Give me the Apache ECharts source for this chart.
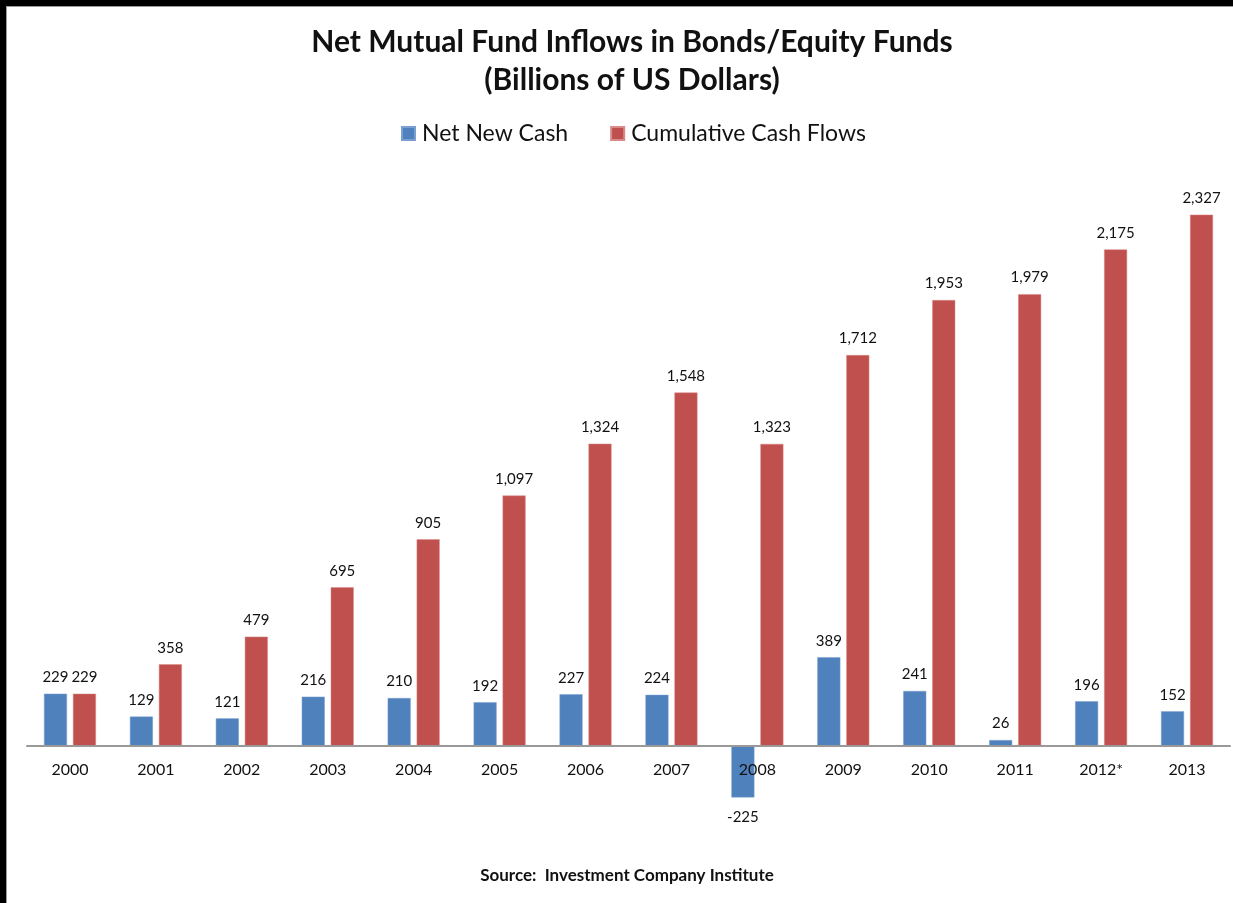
<!DOCTYPE html>
<html>
<head>
<meta charset="utf-8">
<script src="https://cdn.jsdelivr.net/npm/echarts@6/dist/echarts.min.js"></script>
<style>
html,body{margin:0;padding:0;background:#fff;}
#chart{width:1233px;height:903px;}
</style>
</head>
<body>
<div id="chart"></div>
<script>
const categories = ['2000','2001','2002','2003','2004','2005','2006','2007','2008','2009','2010','2011','2012*','2013'];
const netNewCash = [229,129,121,216,210,192,227,224,-225,389,241,26,196,152];
const cumulativeCashFlows = [229,358,479,695,905,1097,1324,1548,1323,1712,1953,1979,2175,2327];
const seriesNames = ['Net New Cash','Cumulative Cash Flows'];

const FONT = 'Lato, "Open Sans", sans-serif';
const fmt = v => Number(v).toLocaleString('en-US');

const chart = echarts.init(document.getElementById('chart'), null, {renderer:'canvas'});
chart.setOption({
  backgroundColor:'#ffffff',
  animation:false,
  title:{
    text:'Net Mutual Fund Inflows in Bonds/Equity Funds\n(Billions of US Dollars)',
    left:627, top:18, textAlign:'center',
    textStyle:{fontFamily:FONT, fontSize:30, fontWeight:'bold', color:'#111', lineHeight:38}
  },
  legend:{
    data:seriesNames,
    left:396, top:117,
    itemWidth:13, itemHeight:13, itemGap:42,
    icon:'rect',
    textStyle:{fontFamily:FONT, fontSize:23, color:'#111', padding:[0,0,0,2]}
  },
  grid:{left:27, right:3, top:198, bottom:157, containLabel:false},
  xAxis:{
    type:'category', data:categories, z:5,
    axisLine:{lineStyle:{color:'#999', width:2}},
    axisTick:{show:false},
    axisLabel:{fontFamily:FONT, fontSize:16, color:'#111', margin:16}
  },
  yAxis:{
    type:'value', min:0, max:2400, show:false,
    splitLine:{show:false}
  },
  graphic:[
    {type:'rect', shape:{x:0,y:0,width:1233,height:6}, style:{fill:'#000'}, z:100},
    {type:'rect', shape:{x:0,y:0,width:6,height:903}, style:{fill:'#000'}, z:100},
    {type:'rect', shape:{x:6,y:6,width:1227,height:1}, style:{fill:'#999'}, z:100},
    {type:'rect', shape:{x:6,y:6,width:1,height:897}, style:{fill:'#999'}, z:100},
    {type:'text', x:627, y:876,
     style:{text:'Source:  Investment Company Institute', textAlign:'center', textVerticalAlign:'middle',
       font:'bold 17px ' + FONT, fill:'#111'}}
  ],
  series:[
    {
      name:seriesNames[0], type:'bar', barWidth:23, barGap:'26%', clip:false,
      itemStyle:{color:'#4F81BD', borderColor:'#7a9fd0', borderWidth:0.5},
      label:{show:true, position:'top', distance:9, fontFamily:FONT, fontSize:15, color:'#111', formatter:p=>fmt(p.value)},
      data:netNewCash.map(v => v < 0 ? {value:v, label:{position:'bottom', distance:12}} : v)
    },
    {
      name:seriesNames[1], type:'bar', barWidth:23, clip:false,
      itemStyle:{color:'#C0504D', borderColor:'#d88a88', borderWidth:0.5},
      label:{show:true, position:'top', distance:9, fontFamily:FONT, fontSize:15, color:'#111', formatter:p=>fmt(p.value)},
      data:cumulativeCashFlows
    }
  ]
});
</script>
</body>
</html>
